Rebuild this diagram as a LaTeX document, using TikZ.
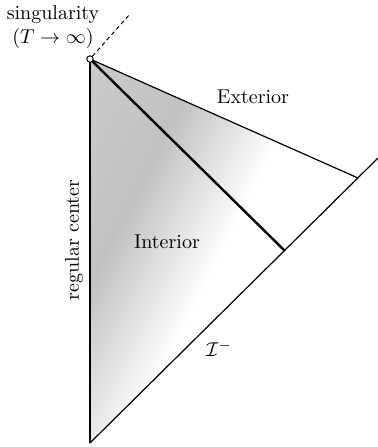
\documentclass[tikz,border=0pt]{standalone}
\begin{document}
\begin{tikzpicture}[x=0.5pt,y=-0.5pt,
  thinline/.style={line width=0.6pt},
  thickline/.style={line width=1.2pt},
  lbl/.style={inner sep=0pt, font=\normalsize}]
\useasboundingbox (0,0) rectangle (378,447);
\coordinate (P) at (90,59);
\coordinate (B) at (90,443);
\coordinate (C) at (285,251);
\coordinate (E) at (358,178);
\coordinate (D) at (378,158);
\coordinate (S) at (130,14);
\begin{scope}
  \clip (P) -- (B) -- (E) -- cycle;
  \begin{scope}[shift={(P)}, rotate=-26.57]
    \foreach \s in {0,3,...,420} {
      \pgfmathsetmacro\g{\s<100 ? 20+0.04*\s : max(0, 24*(205-\s)/105)}
      \fill[black!\g] (\s,-700) -- (\s+4,-700) -- (\s+4,700) -- (\s,700) -- cycle;
    }
  \end{scope}
\end{scope}
\draw[thinline] (P) -- (B);
\draw[thinline] (B) -- (D);
\draw[thinline] (P) -- (E);
\draw[thickline] (P) -- (C);
\node[circle, draw, fill=white, inner sep=0pt, minimum size=3.2pt, line width=0.5pt] (pc) at (P) {};
\draw[line width=0.5pt, dash pattern=on 2pt off 1.6pt] (pc) -- (S);
\node[lbl, align=center] (sing) at (53,27) {singularity\\$(T\to\infty)$};
\node[lbl] (ext) at (253,97) {Exterior};
\node[lbl] (int) at (167,242) {Interior};
\node[lbl, rotate=90] (rc) at (74,240) {regular center};
\node[lbl] (scri) at (219,349) {$\mathcal{I}^-$};
\end{tikzpicture}
\end{document}
